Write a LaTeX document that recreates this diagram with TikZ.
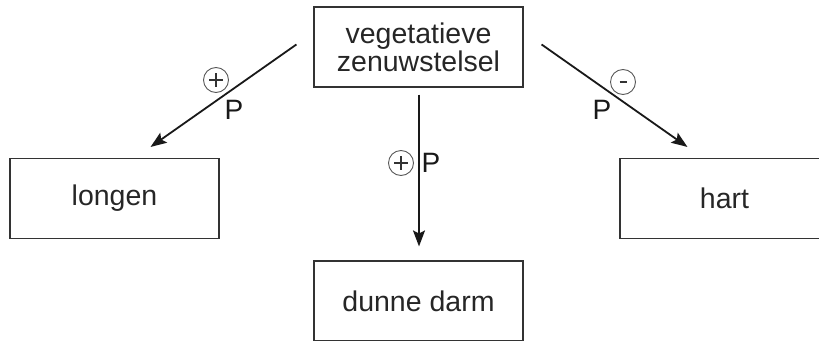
\documentclass[tikz,border=0pt]{standalone}
\usepackage{fontspec}
\setmainfont{Liberation Sans}
\usetikzlibrary{arrows.meta,calc}
\begin{document}
\begin{tikzpicture}[x=1pt,y=-1pt,
  organ/.style={draw=black!80,line width=1.1pt,minimum width=209pt,minimum height=80pt,inner sep=0pt,
    font=\fontsize{28.5}{28}\selectfont,text=black!85,align=center},
  conn/.style={line width=1.8pt,draw=black!90,-{Stealth[length=16pt,width=12pt,inset=3pt]}},
  sign/.style={draw=black!65,circle,line width=0.9pt,minimum size=25pt,inner sep=0pt},
  stroke/.style={draw=black!80,line width=1.3pt},
  lab/.style={font=\fontsize{28}{28}\selectfont,text=black!90,inner sep=0pt}]
\useasboundingbox (0,0) rectangle (819,340);
\node[organ] (veg) at (418.5,47) {vegetatieve\\zenuwstelsel};
\node[organ] (longen) at (114.5,198.5) {longen};
\node[organ] (hart) at (724.5,198.5) {hart};
\node[organ] (darm) at (418.5,301) {dunne darm};
\coordinate (l0) at ($(veg.north west)+(-17,38)$);
\coordinate (l1) at ($(longen.north east)+(-69,-11)$);
\coordinate (r0) at ($(veg.north east)+(18,38)$);
\coordinate (r1) at ($(hart.north west)+(68,-11)$);
\coordinate (v0) at ($(veg.south)+(0.5,7)$);
\coordinate (v1) at ($(darm.north)+(0.5,-14)$);
\draw[conn] (l0) -- (l1);
\draw[conn] (r0) -- (r1);
\draw[conn] (v0) -- (v1);
\node[sign] (s1) at (216,80) {};
\draw[stroke] ($(s1.center)+(-7,0)$) -- ($(s1.center)+(7,0)$)
              ($(s1.center)+(0,-7)$) -- ($(s1.center)+(0,7)$);
\node[lab] (p1) at (234,110) {P};
\node[sign] (s2) at (401,163) {};
\draw[stroke] ($(s2.center)+(-7,0)$) -- ($(s2.center)+(7,0)$)
              ($(s2.center)+(0,-7)$) -- ($(s2.center)+(0,7)$);
\node[lab] (p2) at (431,163) {P};
\node[sign] (s3) at (623,82) {};
\draw[stroke] ($(s3.center)+(-3.5,0)$) -- ($(s3.center)+(3.5,0)$);
\node[lab] (p3) at (602,110) {P};
\end{tikzpicture}
\end{document}
